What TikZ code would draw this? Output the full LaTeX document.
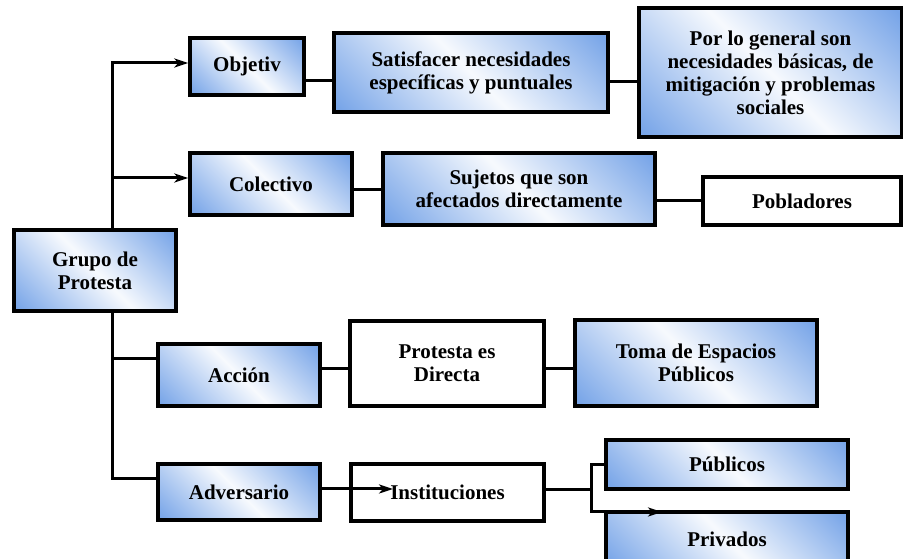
\documentclass[tikz,border=0pt]{standalone}
\usepackage{fontspec}
\setmainfont{Liberation Serif}
\usetikzlibrary{%
        arrows.meta
    }
\definecolor{boxblue}{RGB}{120, 165, 232}
\pgfdeclareverticalshading{diagblue}{100bp}{%
    color(0bp)=(boxblue); color(16bp)=(boxblue);
    color(50bp)=(white!94!boxblue);
    color(84bp)=(boxblue); color(100bp)=(boxblue)}
\tikzset{%
    plainbox/.style={%
        draw, rectangle, line width=3.4pt, align=center, inner sep=2pt,
        font=\fontsize{21}{23}\selectfont\bfseries
    },
    bluebox/.style={plainbox, shading=diagblue, shading angle=-45},
    whitebox/.style={plainbox, fill=white},
    link/.style={line width=3pt},
    arrow/.style={link, -{Stealth[length=14pt, width=9pt, inset=4pt]}}
}

\begin{document}
\begin{tikzpicture}[x=1pt, y=1pt]

    \useasboundingbox (0, 0) rectangle (903, 559);

    % Root
    \node[bluebox, minimum width=162, minimum height=81] (grupo)
        at (95, 288.5) {Grupo de\\Protesta};

    % Objetiv row
    \node[bluebox, minimum width=114, minimum height=57] (objetiv)
        at (247, 492.5) {Objetiv};
    \node[bluebox, minimum width=274, minimum height=79] (satisf)
        at (471, 486.5) {Satisfacer necesidades\\específicas y puntuales};
    \node[bluebox, minimum width=263, minimum height=129] (general)
        at (770.5, 486.5)
        {Por lo general son\\necesidades básicas, de\\mitigación y problemas\\sociales};

    % Colectivo row
    \node[bluebox, minimum width=162, minimum height=62] (colect)
        at (271, 375) {Colectivo};
    \node[bluebox, minimum width=272, minimum height=72] (sujetos)
        at (519, 370) {Sujetos que son\\afectados directamente};
    \node[whitebox, minimum width=198, minimum height=48] (poblad)
        at (802, 358) {Pobladores};

    % Accion row
    \node[bluebox, minimum width=162, minimum height=62] (accion)
        at (239, 184) {Acción};
    \node[whitebox, minimum width=194, minimum height=85] (directa)
        at (447, 195.5) {Protesta es\\Directa};
    \node[bluebox, minimum width=242, minimum height=86] (toma)
        at (696, 196) {Toma de Espacios\\Públicos};

    % Adversario row
    \node[bluebox, minimum width=162, minimum height=56] (advers)
        at (239, 67) {Adversario};
    \node[whitebox, minimum width=193, minimum height=57] (instit)
        at (447.5, 66.5) {Instituciones};
    \node[bluebox, minimum width=242, minimum height=49] (publicos)
        at (727, 94.5) {Públicos};
    \node[bluebox, minimum width=242, minimum height=55] (privados)
        at (727, 19.5) {Privados};

    % Trunk
    \coordinate (trunk) at (112, 0);
    \draw[arrow] (grupo.north -| trunk) |- ([yshift=3.5pt]objetiv.west);
    \draw[arrow] (grupo.north -| trunk) |- ([yshift=6pt]colect.west);
    \draw[link] (grupo.south -| trunk) |- ([yshift=16pt]accion.west);
    \draw[link] (grupo.south -| trunk) |- ([yshift=13pt]advers.west);

    % Row links
    \draw[link] ([yshift=-14.5pt]objetiv.east) coordinate (o1)
        -- (o1 -| satisf.west);
    \draw[link] ([yshift=-9.5pt]satisf.east) coordinate (s1)
        -- (s1 -| general.west);
    \draw[link] ([yshift=-6pt]colect.east) coordinate (c1)
        -- (c1 -| sujetos.west);
    \draw[link] (sujetos.east |- poblad.west) -- (poblad.west);
    \draw[link] ([yshift=6pt]accion.east) coordinate (a1)
        -- (a1 -| directa.west);
    \draw[link] ([yshift=-5.5pt]directa.east) coordinate (d1)
        -- (d1 -| toma.west);

    % Adversario links
    \coordinate (tipinst) at (393, 70);
    \draw[arrow] (advers.east |- tipinst) -- (tipinst);
    \coordinate (fork) at (591, 69);
    \coordinate (tippriv) at (662, 47);
    \draw[link] (instit.east |- fork) -- (fork);
    \draw[link] (fork) |- (publicos.west);
    \draw[arrow] (fork) |- (tippriv);

\end{tikzpicture}
\end{document}
